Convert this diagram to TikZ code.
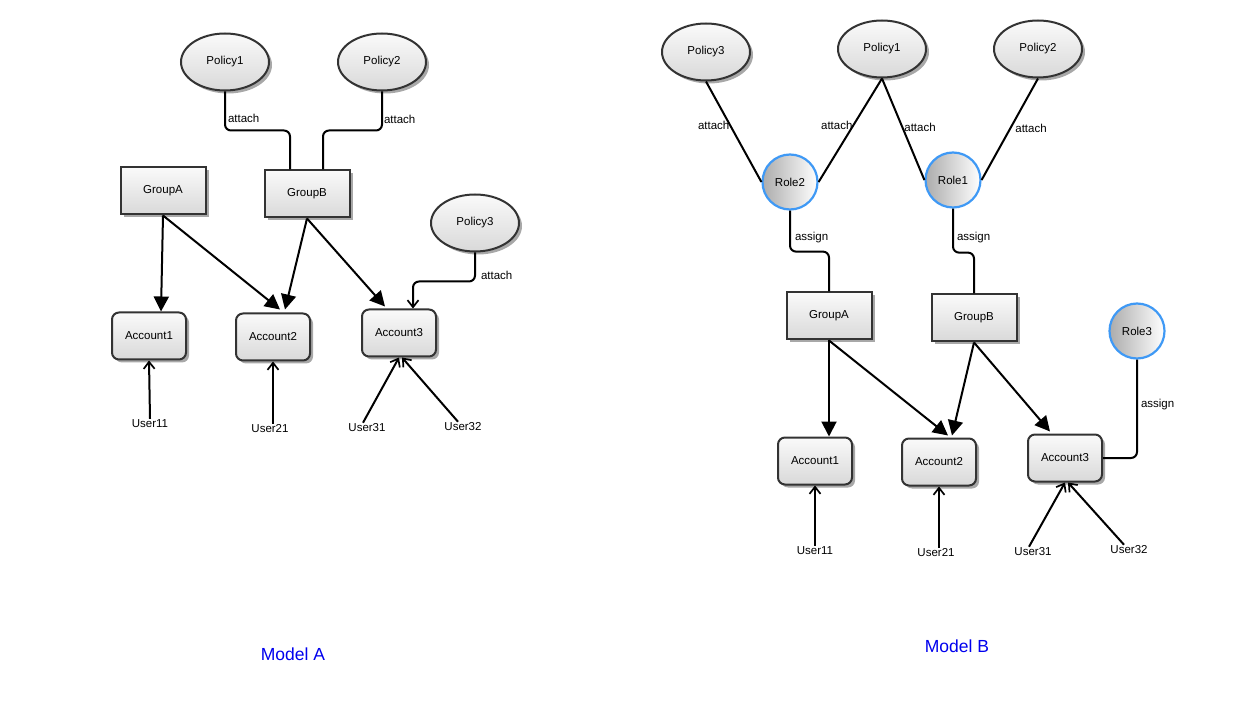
\documentclass[tikz,border=0pt]{standalone}
\usepackage{fontspec}
\setmainfont{Liberation Sans}
\usetikzlibrary{arrows.meta,shadows,shapes.geometric,calc}
\definecolor{edgegray}{HTML}{333333}
\definecolor{roleblue}{HTML}{3F99F5}
\definecolor{shadowgray}{HTML}{A8A8A8}
\definecolor{modelblue}{HTML}{0000EE}
\tikzset{
  base/.style={draw=edgegray, line width=2pt, top color=gray!4, bottom color=gray!30,
    font=\fontsize{11.5}{13}\selectfont, inner sep=0pt,
    drop shadow={shadow xshift=3pt, shadow yshift=-3pt, fill=shadowgray, opacity=1}},
  policy/.style={base, ellipse, minimum width=88pt, minimum height=57pt},
  groupbox/.style={base, rectangle, minimum width=85pt, minimum height=47pt},
  account/.style={base, rectangle, rounded corners=7pt, minimum width=74pt, minimum height=47pt},
  role/.style={circle, draw=roleblue, line width=2.2pt, left color=gray!65, right color=white,
    minimum size=55pt, inner sep=0pt, font=\fontsize{11.5}{13}\selectfont},
  user/.style={font=\fontsize{11.5}{13}\selectfont, inner sep=1pt},
  lbl/.style={font=\fontsize{11.5}{13}\selectfont, inner sep=2pt},
  conn/.style={line width=2pt, draw=black, rounded corners=6pt},
  bigarrow/.style={line width=2pt, -{Triangle[length=15pt,width=15pt]}},
  openarrow/.style={line width=2pt, -{Straight Barb[length=7pt,width=11pt,line width=1.7pt]}},
  modellbl/.style={font=\fontsize{17.5}{20}\selectfont, text=modelblue}
}
\begin{document}
\begin{tikzpicture}[x=1pt,y=-1pt]
\useasboundingbox (0,0) rectangle (1253,708);
% ---------------- Model A ----------------
\node[policy] (p1a) at (225,62) {Policy1};
\node[policy] (p2a) at (382,62) {Policy2};
\node[policy] (p3a) at (475,223) {Policy3};
\node[groupbox] (gaa) at (163,191) {GroupA};
\node[groupbox] (gba) at (307,194) {GroupB};
\node[account] (a1a) at (149,336) {Account1};
\node[account] (a2a) at (273,337) {Account2};
\node[account] (a3a) at (399,333) {Account3};
\node[user] (u11a) at (150,424) {User11};
\node[user] (u21a) at (270,429) {User21};
\node[user] (u31a) at (367,428) {User31};
\node[user] (u32a) at (463,427) {User32};
\node[modellbl] (ma) at (293,654) {Model A};

\draw[conn] (p1a.south) -- node[lbl, right, pos=0.68] (l1a) {attach} ++(0,39) -| ([xshift=-17pt]gba.north);
\draw[conn] (p2a.south) -- node[lbl, right, pos=0.72, xshift=-1pt] (l2a) {attach} ++(0,39) -| ([xshift=16pt]gba.north);
\draw[conn, openarrow] (p3a.south) -- node[lbl, right, pos=0.78, xshift=3pt] (l3a) {attach} ++(0,29) -| ([xshift=14pt]a3a.north);

\draw[bigarrow] (gaa.south) -- ([xshift=12pt]a1a.north);
\draw[bigarrow] (gaa.south) -- ([xshift=7pt,yshift=3pt]a2a.north);
\draw[bigarrow] (gba.south) -- ([xshift=12pt,yshift=3pt]a2a.north);
\draw[bigarrow] (gba.south) -- ([xshift=-14pt,yshift=2pt]a3a.north);

\draw[openarrow] (u11a.north) -- (a1a.south);
\draw[openarrow] ([xshift=3pt]u21a.north) -- (a2a.south);
\draw[openarrow] ([xshift=-4pt]u31a.north) -- (a3a.south);
\draw[openarrow] ([xshift=-5pt]u32a.north) -- ([xshift=3pt]a3a.south);

% ---------------- Model B ----------------
\node[policy] (p3b) at (706,52) {Policy3};
\node[policy] (p1b) at (882,49) {Policy1};
\node[policy] (p2b) at (1038,49) {Policy2};
\node[role] (r2b) at (790,182) {Role2};
\node[role] (r1b) at (953,180) {Role1};
\node[role] (r3b) at (1137,331) {Role3};
\node[groupbox] (gab) at (829,316) {GroupA};
\node[groupbox] (gbb) at (974,318) {GroupB};
\node[account] (a1b) at (815,461) {Account1};
\node[account] (a2b) at (939,462) {Account2};
\node[account] (a3b) at (1065,458) {Account3};
\node[user] (u11b) at (815,551) {User11};
\node[user] (u21b) at (936,553) {User21};
\node[user] (u31b) at (1033,552) {User31};
\node[user] (u32b) at (1129,550) {User32};
\node[modellbl] (mb) at (957,646) {Model B};

\draw[conn] (p3b.south) -- node[lbl, left, pos=0.44, xshift=2pt] (l3b) {attach} (r2b.west);
\draw[conn] (p1b.south) -- node[lbl, left, pos=0.45, xshift=2pt] (l1b) {attach} (r2b.east);
\draw[conn] (p1b.south) -- node[lbl, right, pos=0.48, xshift=-1pt] (l1c) {attach} (r1b.west);
\draw[conn] (p2b.south) -- node[lbl, right, pos=0.49, xshift=2pt] (l2b) {attach} (r1b.east);

\draw[conn] (r2b.south) -- node[lbl, right, pos=0.65, xshift=2pt] (s2b) {assign} ++(0,41) -| (gab.north);
\draw[conn] (r1b.south) -- node[lbl, right, pos=0.65, xshift=1pt] (s1b) {assign} ++(0,44) -| (gbb.north);
\draw[conn] (r3b.south) |- node[lbl, right, pos=0.23, xshift=1pt] (s3b) {assign} (a3b.east);

\draw[bigarrow] (gab.south) -- ([xshift=14pt]a1b.north);
\draw[bigarrow] (gab.south) -- ([xshift=9pt,yshift=2pt]a2b.north);
\draw[bigarrow] (gbb.south) -- ([xshift=13pt,yshift=2pt]a2b.north);
\draw[bigarrow] (gbb.south) -- ([xshift=-15pt,yshift=2pt]a3b.north);

\draw[openarrow] (u11b.north) -- (a1b.south);
\draw[openarrow] ([xshift=3pt]u21b.north) -- (a2b.south);
\draw[openarrow] ([xshift=-4pt]u31b.north) -- (a3b.south);
\draw[openarrow] ([xshift=-5pt]u32b.north) -- ([xshift=3pt]a3b.south);
\end{tikzpicture}
\end{document}
